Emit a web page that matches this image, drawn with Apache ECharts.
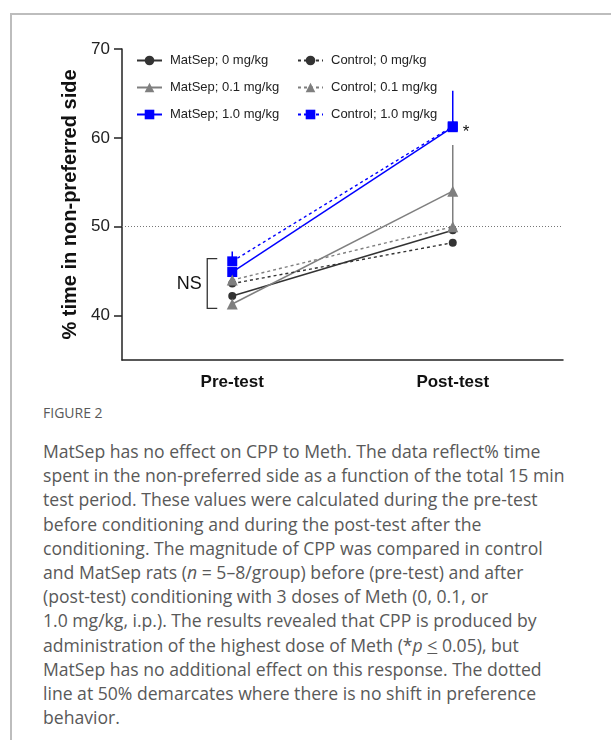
<!DOCTYPE html>
<html lang="en">
<head>
    <meta charset="UTF-8">
    <title>Figure 2</title>
    <script src="https://cdn.jsdelivr.net/npm/echarts@6/dist/echarts.min.js"></script>
    <style>
        body { margin: 0; background: #fff; }
        #frame {
            position: absolute; left: 10px; top: 13px; width: 601px; height: 727px;
            border-left: 2px solid #bdbdbd; border-top: 2px solid #bdbdbd;
        }
        #main { position: absolute; left: 0; top: 0; width: 611px; height: 400px; }
        #caption {
            position: absolute; left: 43px; top: 403px; width: 560px;
            font-family: "Open Sans", sans-serif; color: #595959;
        }
        #caption .fig { font-size: 14px; line-height: 20px; margin-bottom: 16px; }
        #caption .ln { font-size: 17.6px; line-height: 24.2px; white-space: nowrap; }
    </style>
</head>
<body>
<div id="frame"></div>
<div id="main"></div>
<div id="caption">
    <div class="fig">FIGURE 2</div>
    <div class="ln">MatSep has no effect on CPP to Meth. The data reflect% time</div>
    <div class="ln">spent in the non-preferred side as a function of the total 15 min</div>
    <div class="ln">test period. These values were calculated during the pre-test</div>
    <div class="ln">before conditioning and during the post-test after the</div>
    <div class="ln">conditioning. The magnitude of CPP was compared in control</div>
    <div class="ln">and MatSep rats (<i>n</i> = 5–8/group) before (pre-test) and after</div>
    <div class="ln">(post-test) conditioning with 3 doses of Meth (0, 0.1, or</div>
    <div class="ln">1.0 mg/kg, i.p.). The results revealed that CPP is produced by</div>
    <div class="ln">administration of the highest dose of Meth (*<i>p</i> <u>&lt;</u> 0.05), but</div>
    <div class="ln">MatSep has no additional effect on this response. The dotted</div>
    <div class="ln">line at 50% demarcates where there is no shift in preference</div>
    <div class="ln">behavior.</div>
</div>
<script>
    // 数据
    const phases = ['Pre-test', 'Post-test'];
    const yTicks = [40, 50, 60, 70];
    const chanceLevel = 50;
    const nsRange = [40.8, 46.4];

    const matSep0 = [42.2, 49.6];
    const matSep01 = [41.3, 54.0];
    const matSep10 = [44.9, 61.2];
    const control0 = [43.6, 48.2];
    const control01 = [44.0, 50.0];
    const control10 = [46.1, 61.3];

    // 误差线 (只画上半部分)
    const matSep0Sem = [0.4, 0.3];
    const matSep01Sem = [0.4, 5.2];
    const matSep10Sem = [0.5, 4.1];
    const control0Sem = [0.4, 0.4];
    const control01Sem = [0.4, 4.0];
    const control10Sem = [1.1, 0.6];

    const font = '"Liberation Sans", Arial, sans-serif';
    const dark = '#333333', gray = '#7f7f7f', blue = '#0000ff';

    function lineSeries(name, values, color, symbol, size, dashed) {
        return {
            name: name,
            type: 'line',
            data: values,
            symbol: symbol,
            symbolSize: size,
            z: 3,
            itemStyle: { color: color },
            lineStyle: { color: color, width: dashed ? 1.4 : 1.5, type: dashed ? [3, 3] : 'solid' }
        };
    }

    function errSeries(values, sem, color) {
        let d = values.map((v, i) => [i, v, v + sem[i]]);
        return {
            type: 'custom',
            z: 2,
            silent: true,
            data: d,
            renderItem: function (params, api) {
                let p0 = api.coord([api.value(0), api.value(1)]);
                let p1 = api.coord([api.value(0), api.value(2)]);
                return {
                    type: 'line',
                    shape: { x1: p0[0], y1: p0[1], x2: p1[0], y2: p1[1] },
                    style: { stroke: color, lineWidth: 1.5 }
                };
            }
        };
    }

    let s0 = lineSeries('MatSep; 0 mg/kg', matSep0, dark, 'circle', 8, false);
    s0.markLine = {
        silent: true,
        symbol: ['none', 'none'],
        label: { show: false },
        lineStyle: { color: '#777', type: [1, 2], width: 1 },
        data: [{ yAxis: chanceLevel }]
    };
    let s2 = lineSeries('MatSep; 1.0 mg/kg', matSep10, blue, 'rect', 10, false);
    s2.data = matSep10.map((v, i) => i === 1
        ? { value: v, label: { show: true, formatter: '*', position: 'right', distance: 5, offset: [0, 5], fontSize: 17, color: '#111', fontFamily: font } }
        : v);

    const series = [
        s0,
        lineSeries('MatSep; 0.1 mg/kg', matSep01, gray, 'triangle', 11, false),
        s2,
        lineSeries('Control; 0 mg/kg', control0, dark, 'circle', 8, true),
        lineSeries('Control; 0.1 mg/kg', control01, gray, 'triangle', 11, true),
        lineSeries('Control; 1.0 mg/kg', control10, blue, 'rect', 10, true),
        errSeries(matSep0, matSep0Sem, dark),
        errSeries(matSep01, matSep01Sem, gray),
        errSeries(matSep10, matSep10Sem, blue),
        errSeries(control0, control0Sem, dark),
        errSeries(control01, control01Sem, gray),
        errSeries(control10, control10Sem, blue)
    ];

    let legendBase = {
        orient: 'vertical',
        top: 49,
        itemWidth: 25,
        itemHeight: 12,
        itemGap: 14,
        selectedMode: false,
        textStyle: { fontSize: 13, color: '#222', fontFamily: font, padding: [0, 0, 0, 3] }
    };

    let myChart = echarts.init(document.getElementById('main'));
    let option = {
        animation: false,
        grid: { left: 122, top: 49, width: 441, height: 311 },
        legend: [
            Object.assign({ left: 131, data: ['MatSep; 0 mg/kg', 'MatSep; 0.1 mg/kg', 'MatSep; 1.0 mg/kg'] }, legendBase),
            Object.assign({ left: 292, data: ['Control; 0 mg/kg', 'Control; 0.1 mg/kg', 'Control; 1.0 mg/kg'] }, legendBase)
        ],
        xAxis: {
            type: 'category',
            data: phases,
            boundaryGap: true,
            axisLine: { lineStyle: { color: '#222', width: 1.5 } },
            axisTick: { alignWithLabel: true, length: 7, lineStyle: { color: '#222', width: 1.5 } },
            axisLabel: { fontFamily: font, fontSize: 17, fontWeight: 'bold', color: '#111', margin: 14 }
        },
        yAxis: {
            type: 'value',
            min: 35,
            max: 70,
            name: '% time in non-preferred side',
            nameLocation: 'middle',
            nameGap: 32,
            nameTextStyle: { fontFamily: font, fontSize: 20, fontWeight: 'bold', color: '#111' },
            splitLine: { show: false },
            axisLine: { show: true, lineStyle: { color: '#222', width: 1.5 } },
            axisTick: { show: true, length: 8, customValues: yTicks, lineStyle: { color: '#222', width: 1.5 } },
            axisLabel: { customValues: yTicks, fontFamily: font, fontSize: 17, color: '#222', margin: 12 }
        },
        series: series
    };
    myChart.setOption(option);

    // NS 括号
    let nsTop = myChart.convertToPixel({ seriesIndex: 0 }, [0, nsRange[1]]);
    let nsBot = myChart.convertToPixel({ seriesIndex: 0 }, [0, nsRange[0]]);
    let bx = nsTop[0] - 25;
    myChart.setOption({
        graphic: [
            {
                type: 'polyline',
                shape: { points: [[bx + 10, nsTop[1]], [bx, nsTop[1]], [bx, nsBot[1]], [bx + 10, nsBot[1]]] },
                style: { stroke: '#333', lineWidth: 1.3, fill: null }
            },
            {
                type: 'text',
                x: bx - 18,
                y: (nsTop[1] + nsBot[1]) / 2,
                style: { text: 'NS', fontFamily: font, fontSize: 18, fill: '#111', align: 'center', verticalAlign: 'middle' }
            }
        ]
    });
</script>
</body>
</html>
